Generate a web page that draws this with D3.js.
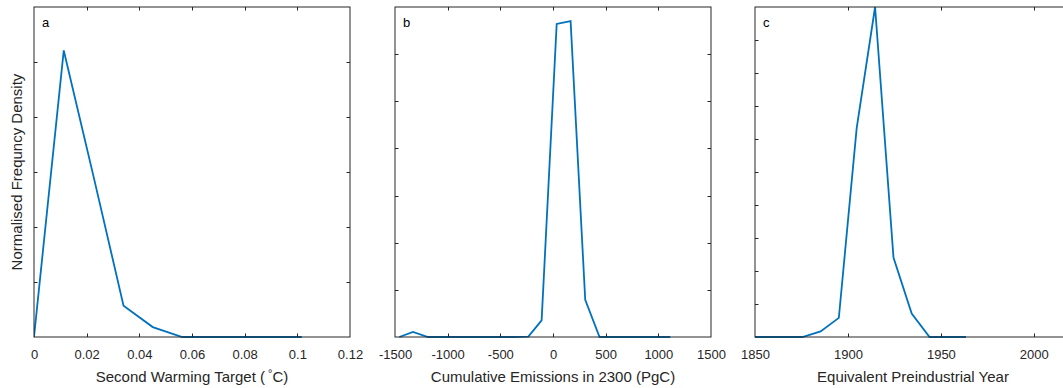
<!DOCTYPE html>
<html>
<head>
<meta charset="utf-8">
<script src="https://cdn.jsdelivr.net/npm/d3@7"></script>
<style>
  html, body { margin: 0; padding: 0; background: #fff; }
  svg { display: block; font-family: "Liberation Sans", Arial, Helvetica, sans-serif; }
</style>
</head>
<body>
<svg id="chart" width="1063" height="388"></svg>
<script>
// ---- Data ----
// Panel a: Second Warming Target (°C)
const warmX = [0, 0.0113, 0.0226, 0.034, 0.0451, 0.0563, 0.0676, 0.0789, 0.0902, 0.1017];
const warmY = [0, 5.21, 2.92, 0.57, 0.18, 0, 0, 0, 0, 0];
const warmTicks = [0, 0.02, 0.04, 0.06, 0.08, 0.1, 0.12];
const warmTickLabels = ["0", "0.02", "0.04", "0.06", "0.08", "0.1", "0.12"];

// Panel b: Cumulative Emissions in 2300 (PgC)
const emisX = [-1459, -1329, -1187, -1050, -910, -772, -636, -500, -370, -234, -108, 35, 167, 306, 442, 580, 718, 856, 994, 1114];
const emisY = [0, 0.106, 0, 0, 0, 0, 0, 0, 0, 0.01, 0.354, 6.64, 6.70, 0.79, 0, 0, 0, 0, 0, 0];
const emisTicks = [-1500, -1000, -500, 0, 500, 1000, 1500];
const emisTickLabels = ["-1500", "-1000", "-500", "0", "500", "1000", "1500"];

// Panel c: Equivalent Preindustrial Year
const yearX = [1850, 1856, 1865.7, 1875.5, 1885.3, 1895.1, 1904.7, 1914.6, 1924.5, 1934.3, 1943.9, 1953.7, 1963.5];
const yearY = [0, 0, 0, 0, 0.17, 0.58, 6.33, 10, 2.41, 0.71, 0, 0, 0];
const yearTicks = [1850, 1900, 1950, 2000];
const yearTickLabels = ["1850", "1900", "1950", "2000"];

const panelLetters = ["a", "b", "c"];
const xLabels = ["Second Warming Target (", "Cumulative Emissions in 2300 (PgC)", "Equivalent Preindustrial Year"];
const yLabel = "Normalised Frequncy Density";

// ---- Layout ----
const svg = d3.select("#chart");
const plotTop = 7, plotBottom = 337;
const axisColor = "#262626";
const lineColor = "#0072BD";

const panels = [
  { left: 34, right: 350, xDomain: [0, 0.12], yDomain: [0, 6], yTickCount: 6, xs: warmX, ys: warmY, ticks: warmTicks, tickLabels: warmTickLabels },
  { left: 395, right: 711, xDomain: [-1500, 1500], yDomain: [0, 7], yTickCount: 7, xs: emisX, ys: emisY, ticks: emisTicks, tickLabels: emisTickLabels },
  { left: 755, right: 1071, xDomain: [1850, 2020], yDomain: [0, 10], yTickCount: 10, xs: yearX, ys: yearY, ticks: yearTicks, tickLabels: yearTickLabels }
];

panels.forEach((p, i) => {
  const x = d3.scaleLinear().domain(p.xDomain).range([p.left, p.right]);
  const y = d3.scaleLinear().domain(p.yDomain).range([plotBottom, plotTop]);
  const g = svg.append("g");
  const tickLen = 3.5;

  const clipId = "clip" + i;
  svg.append("clipPath").attr("id", clipId)
    .append("rect").attr("x", p.left).attr("y", plotTop - 2).attr("width", p.right - p.left).attr("height", plotBottom - plotTop + 3);

  const pts = p.xs.map((v, k) => [v, p.ys[k]]);
  g.append("path")
    .datum(pts)
    .attr("clip-path", `url(#${clipId})`)
    .attr("fill", "none")
    .attr("stroke", lineColor)
    .attr("stroke-width", 1.8)
    .attr("stroke-linejoin", "miter")
    .attr("d", d3.line().x(d => x(d[0])).y(d => y(d[1])));

  g.append("rect")
    .attr("x", p.left).attr("y", plotTop)
    .attr("width", p.right - p.left).attr("height", plotBottom - plotTop)
    .attr("fill", "none").attr("stroke", axisColor).attr("stroke-width", 1);

  const xAxisB = d3.axisBottom(x).tickValues(p.ticks).tickSize(0).tickFormat((d, k) => p.tickLabels[k]);
  const xb = g.append("g").attr("transform", `translate(0,${plotBottom})`).call(xAxisB);
  xb.select(".domain").remove();
  xb.selectAll("text").attr("fill", axisColor).attr("font-size", 13)
    .attr("font-family", "Liberation Sans, Arial, sans-serif").attr("dy", "1.45em");
  p.ticks.forEach(t => {
    const xx = Math.round(x(t)) + 0.5;
    if (t === p.xDomain[0] || t === p.xDomain[1]) return;
    g.append("line").attr("x1", xx).attr("x2", xx).attr("y1", plotBottom).attr("y2", plotBottom - tickLen)
      .attr("stroke", axisColor).attr("stroke-width", 1);
    g.append("line").attr("x1", xx).attr("x2", xx).attr("y1", plotTop).attr("y2", plotTop + tickLen)
      .attr("stroke", axisColor).attr("stroke-width", 1);
  });

  const yt = d3.range(1, p.yTickCount).map(k => p.yDomain[0] + k * (p.yDomain[1] - p.yDomain[0]) / p.yTickCount);
  yt.forEach(t => {
    const yy = Math.round(y(t)) + 0.5;
    g.append("line").attr("x1", p.left).attr("x2", p.left + tickLen).attr("y1", yy).attr("y2", yy)
      .attr("stroke", axisColor).attr("stroke-width", 1);
    g.append("line").attr("x1", p.right).attr("x2", p.right - tickLen).attr("y1", yy).attr("y2", yy)
      .attr("stroke", axisColor).attr("stroke-width", 1);
  });

  g.append("text").attr("x", p.left + 8).attr("y", 27)
    .attr("font-size", 13).attr("fill", "#000").text(panelLetters[i]);

  const lbl = g.append("text")
    .attr("x", (p.left + p.right) / 2).attr("y", 382)
    .attr("text-anchor", "middle").attr("font-size", 15).attr("fill", axisColor)
    .text(xLabels[i]);
  if (i === 0) {
    lbl.append("tspan").attr("dx", 3).attr("font-size", 11).attr("dy", -5).text("°");
    lbl.append("tspan").attr("dy", 5).attr("font-size", 15).text("C)");
  }
});

svg.append("text")
  .attr("transform", "translate(22,172) rotate(-90)")
  .attr("text-anchor", "middle").attr("font-size", 15).attr("fill", axisColor)
  .text(yLabel);
</script>
</body>
</html>
